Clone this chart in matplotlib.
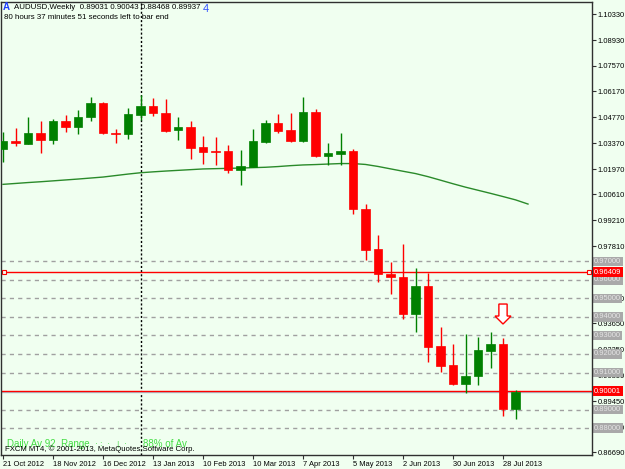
import matplotlib
matplotlib.use('Agg')
import matplotlib.pyplot as plt
from matplotlib.patches import Rectangle, Polygon
from matplotlib.transforms import blended_transform_factory
import numpy as np

# ---------------- data (weekly AUDUSD, 21 Oct 2012 .. 4 Aug 2013) ----------------
opens = [1.03062, 1.03510, 1.03348, 1.03925, 1.03564, 1.04557, 1.04249, 1.04805, 1.05544, 1.03941,
         1.03871, 1.04913, 1.05366, 1.05021, 1.04071, 1.04233, 1.03170, 1.02970, 1.02954, 1.01928,
         1.02090, 1.03456, 1.04481, 1.04087, 1.03477, 1.05059, 1.02684, 1.02808, 1.02954, 0.99824,
         0.97649, 0.96316, 0.96170, 0.94173, 0.95668, 0.92430, 0.91404, 0.90379, 0.90811, 0.92176,
         0.92538, 0.89031]
highs = [1.03979, 1.04195, 1.04789, 1.04557, 1.04681, 1.04897, 1.05150, 1.05852, 1.05582, 1.04141,
         1.05258, 1.05976, 1.05798, 1.05760, 1.04772, 1.04557, 1.03763, 1.03693, 1.03278, 1.03008,
         1.04141, 1.04627, 1.04951, 1.05005, 1.05852, 1.05221, 1.03402, 1.03925, 1.03062, 1.00093,
         0.98420, 0.96979, 0.97918, 0.96623, 0.96397, 0.93439, 0.92538, 0.93066, 0.92915, 0.93169,
         0.92878, 0.90043]
lows = [1.02360, 1.03224, 1.03330, 1.02862, 1.03348, 1.03996, 1.03888, 1.04573, 1.03890, 1.03402,
        1.03618, 1.04611, 1.04827, 1.03996, 1.03547, 1.02506, 1.02269, 1.02182, 1.01783, 1.01119,
        1.02070, 1.03402, 1.03941, 1.03456, 1.03456, 1.02650, 1.02182, 1.02198, 0.99554, 0.97071,
        0.95900, 0.95263, 0.93871, 0.93212, 0.91582, 0.91026, 0.90325, 0.89893, 0.90309, 0.91258,
        0.88652, 0.88468]
closes = [1.03494, 1.03369, 1.03925, 1.03564, 1.04573, 1.04249, 1.04805, 1.05544, 1.03909, 1.03871,
          1.04951, 1.05382, 1.05005, 1.04033, 1.04233, 1.03132, 1.02916, 1.02916, 1.01912, 1.02128,
          1.03510, 1.04481, 1.04049, 1.03477, 1.05059, 1.02668, 1.02846, 1.02954, 0.99807, 0.97611,
          0.96316, 0.96154, 0.94173, 0.95668, 0.92392, 0.91366, 0.90379, 0.90838, 0.92214, 0.92538,
          0.89031, 0.89937]
# moving average (drawn shifted one bar forward)
ma = [1.01157, 1.01205, 1.01254, 1.01297, 1.01345, 1.01394, 1.01443, 1.01497, 1.01551, 1.01631,
      1.01712, 1.01783, 1.01831, 1.01874, 1.01912, 1.01950, 1.01988, 1.02004, 1.02020, 1.02036,
      1.02058, 1.02079, 1.02117, 1.02166, 1.02204, 1.02225, 1.02252, 1.02279, 1.02279, 1.02231,
      1.02123, 1.01993, 1.01864, 1.01739, 1.01572, 1.01382, 1.01189, 1.01005, 1.00838, 1.00671,
      1.00498, 1.00320, 1.00093]

date_labels = ['21 Oct 2012', '18 Nov 2012', '16 Dec 2012', '13 Jan 2013', '10 Feb 2013',
               '10 Mar 2013', '7 Apr 2013', '5 May 2013', '2 Jun 2013', '30 Jun 2013', '28 Jul 2013']
date_label_bars = [0, 4, 8, 12, 16, 20, 24, 28, 32, 36, 40]

price_ticks = [1.10330, 1.08930, 1.07570, 1.06170, 1.04770, 1.03370, 1.01970, 1.00610, 0.99210,
               0.97810, 0.96410, 0.95010, 0.93650, 0.92250, 0.90850, 0.89450, 0.88050, 0.86690]
hidden_ticks = [0.96410]   # covered by the red 0.96409 label in the reference

level_lines = [0.97, 0.96, 0.95, 0.94, 0.93, 0.92, 0.91, 0.89, 0.88]
red_levels = [0.96409, 0.90001]
bid_price = 0.89937
separator_bar = 11
arrow_bar = 40
arrow_tip = 0.93617
arrow_top = 0.94696
arrow_neck = 0.94049

title_text = 'AUDUSD,Weekly  0.89031 0.90043 0.88468 0.89937'
timer_text = '80 hours 37 minutes 51 seconds left to bar end'
copyright_text = 'FXCM MT4, \u00a9 2001-2013, MetaQuotes Software Corp.'

# ---------------- figure ----------------
BG = '#F0FFF0'
W, H = 625, 469
plt.rcParams['font.family'] = ['Liberation Sans', 'DejaVu Sans']
FS = 5.4

fig = plt.figure(figsize=(W / 100, H / 100), dpi=100, facecolor=BG)
ax = fig.add_axes([1 / W, (H - 455) / H, 591 / W, 453 / H], facecolor=BG)

ymin, ymax = 0.86547, 1.11000
ax.set_ylim(ymin, ymax)
ax.set_xlim(-0.16, 47.12)

# level lines
for lv in level_lines:
    ax.axhline(lv, color='#a0a0a0', lw=1.0, ls=(0, (3, 3)), zorder=1)
ax.axhline(bid_price, color='#a8c4d0', lw=1.0, zorder=1.5)
for lv in red_levels:
    ax.axhline(lv, color='#ff0000', lw=1.0, zorder=1.6)
ax.plot([0.05, 46.9], [red_levels[0]] * 2, ls='none', marker='s', ms=3.2,
        mfc=BG, mec='#ff0000', mew=0.8, zorder=1.7)

# period separator
ax.axvline(separator_bar, color='black', lw=1.0, ls=(0, (1.5, 1.5)), zorder=1.2)

# moving average
ax.plot(np.arange(len(ma)), ma, color='#2a8a2a', lw=1.0, zorder=2)

# candles
bw = 0.66
for i, (o, h, l, c) in enumerate(zip(opens, highs, lows, closes)):
    col = '#008000' if c >= o else '#ff0000'
    ax.plot([i, i], [l, h], color=col, lw=1.0, zorder=3, solid_capstyle='butt')
    lo, hi = min(o, c), max(o, c)
    if hi - lo < 0.0006:
        mid = (hi + lo) / 2
        lo, hi = mid - 0.0003, mid + 0.0003
    ax.add_patch(Rectangle((i - bw / 2, lo), bw, hi - lo, facecolor=col,
                           edgecolor=col, lw=0.5, zorder=3.1))

# arrow (hollow, pointing down)
sw, hw = 0.33, 0.64
arrow_pts = [(arrow_bar - sw, arrow_top), (arrow_bar + sw, arrow_top), (arrow_bar + sw, arrow_neck),
             (arrow_bar + hw, arrow_neck), (arrow_bar, arrow_tip), (arrow_bar - hw, arrow_neck),
             (arrow_bar - sw, arrow_neck)]
ax.add_patch(Polygon(arrow_pts, closed=True, facecolor='white', edgecolor='#ff0000', lw=1.0, zorder=4))

# axes styling
for s in ax.spines.values():
    s.set_color('#303030')
    s.set_linewidth(1.0)
ax.yaxis.tick_right()
ax.set_yticks(price_ticks)
ax.set_yticklabels(['' if v in hidden_ticks else '%.5f' % v for v in price_ticks])
ax.tick_params(axis='y', direction='out', length=3, width=0.8, color='#303030',
               labelsize=FS, pad=1.0, labelcolor='black')
ax.set_xticks(date_label_bars)
ax.set_xticklabels(date_labels)
ax.tick_params(axis='x', direction='out', length=3, width=0.8, color='#303030',
               labelsize=FS, pad=1.5, labelcolor='black')
for lbl in ax.get_xticklabels():
    lbl.set_ha('left')

# price labels on the right scale
tr = blended_transform_factory(ax.transAxes, ax.transData)
for lv in level_lines:
    ax.text(1.0035, lv, '%.5f' % lv, transform=tr, fontsize=FS, color='#e4e4e4', va='center',
            ha='left', clip_on=False, zorder=2,
            bbox=dict(boxstyle='square,pad=0.18', fc='#a9a9a9', ec='none'))
for lv in red_levels:
    ax.text(1.0035, lv, '%.5f' % lv, transform=tr, fontsize=FS, color='white', va='center',
            ha='left', clip_on=False, zorder=5,
            bbox=dict(boxstyle='square,pad=0.18', fc='#ff0000', ec='none'))

# header texts
fig.text(14 / W, 1 - 7.5 / H, title_text, fontsize=FS + 0.3, color='black', va='center', ha='left')
fig.text(4 / W, 1 - 17.5 / H, timer_text, fontsize=FS + 0.3, color='black', va='center', ha='left')
fig.text(3 / W, 1 - 7 / H, 'A', fontsize=7, color='#2040ff', va='center', ha='left', fontweight='bold')
fig.text(203 / W, 1 - 9 / H, '4', fontsize=8, color='#3050ff', va='center', ha='left')

# footer texts
fig.text(7 / W, 1 - 444 / H, 'Daily Av 92  Range', fontsize=7, color='#44dd44', va='center', ha='left')
fig.text(95 / W, 1 - 444 / H, '\u00b7 :  \u00b7   |  \u00b7', fontsize=6, color='#44dd44', va='center', ha='left')
fig.text(143 / W, 1 - 444 / H, '88% of Av', fontsize=7, color='#44dd44', va='center', ha='left')
fig.text(5 / W, 1 - 449.5 / H, copyright_text, fontsize=FS + 0.2, color='black', va='center', ha='left')

fig.savefig('out.png', dpi=100, facecolor=BG)
